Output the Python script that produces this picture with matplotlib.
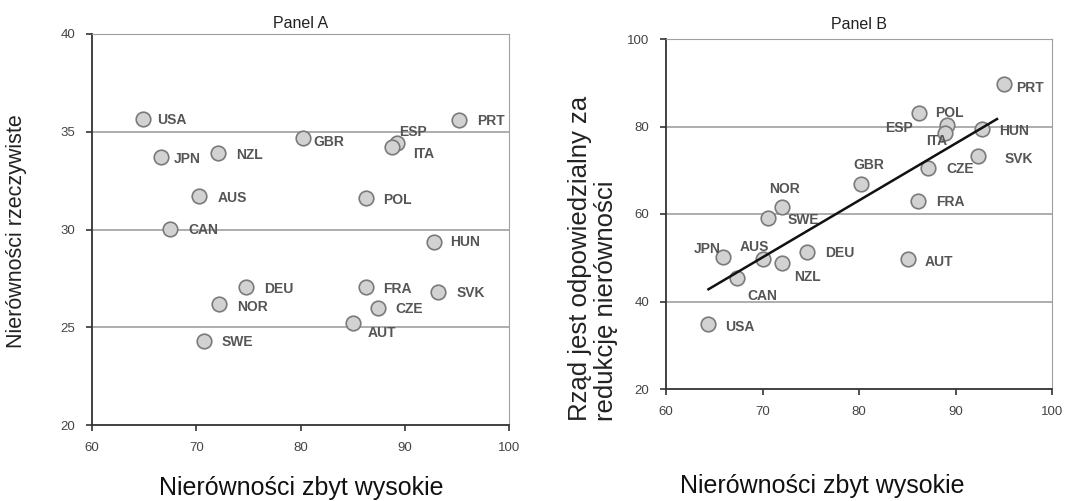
import matplotlib.pyplot as plt
import numpy as np

plt.rcParams['font.family'] = ['Liberation Sans', 'DejaVu Sans']

# Panel A: share saying inequality too high vs actual inequality (Gini)
countries_a = ['USA', 'JPN', 'NZL', 'AUS', 'CAN', 'GBR', 'ESP', 'ITA', 'PRT', 'POL',
               'HUN', 'DEU', 'NOR', 'SWE', 'FRA', 'CZE', 'AUT', 'SVK']
too_high_a = [64.9, 66.6, 72.1, 70.3, 67.5, 80.2, 89.3, 88.8, 95.2, 86.3,
              92.8, 74.8, 72.2, 70.7, 86.3, 87.4, 85.0, 93.2]
actual_a = [35.65, 33.7, 33.9, 31.7, 30.05, 34.7, 34.4, 34.2, 35.6, 31.6,
            29.35, 27.05, 26.2, 24.3, 27.05, 26.0, 25.2, 26.8]

# Panel B: share saying inequality too high vs government responsible for reducing it
countries_b = ['PRT', 'POL', 'ESP', 'ITA', 'HUN', 'SVK', 'CZE', 'GBR', 'FRA', 'NOR',
               'SWE', 'JPN', 'AUS', 'NZL', 'DEU', 'CAN', 'AUT', 'USA']
too_high_b = [95.0, 89.1, 86.2, 88.9, 92.7, 92.3, 87.2, 80.2, 86.1, 72.0,
              70.6, 65.9, 70.1, 72.0, 74.6, 67.4, 85.1, 64.4]
govt_b = [89.7, 80.3, 83.1, 78.5, 79.4, 73.3, 70.6, 66.8, 63.0, 61.7,
          59.1, 50.2, 49.7, 48.8, 51.3, 45.4, 49.7, 34.9]

# label offsets in points (dx, dy, ha)
default_off = (13, -1, 'left')
offs_a = {'USA': (10, -1, 'left'), 'JPN': (9, -1, 'left'), 'ESP': (1, 8, 'left'),
          'ITA': (15, -5, 'left'), 'GBR': (8, -3.5, 'left'), 'AUT': (11, -7, 'left'),
          'NOR': (13, -2, 'left'), 'POL': (12, -1, 'left'), 'HUN': (12, 0, 'left'),
          'FRA': (12, -1, 'left')}
offs_b = {'PRT': (9, -3, 'left'), 'POL': (2, 9, 'center'), 'ESP': (-4, -11, 'right'),
          'ITA': (-6, -6, 'center'), 'HUN': (13, -1, 'left'), 'SVK': (19, -2, 'left'),
          'GBR': (6, 14, 'center'), 'NOR': (2, 13, 'center'), 'SWE': (14, -1.5, 'left'),
          'JPN': (-2, 6, 'right'), 'AUS': (-6.5, 9, 'center'), 'NZL': (9, -10, 'left'),
          'CAN': (7, -13, 'left'), 'AUT': (12, -2, 'left'), 'USA': (12, -2, 'left')}

fig = plt.figure(figsize=(10.67, 5.01), dpi=100)
W, H = 1067, 501
ax_a = fig.add_axes([92 / W, 1 - 425 / H, (509 - 92) / W, (425 - 34) / H])
ax_b = fig.add_axes([666 / W, 1 - 389 / H, (1052 - 666) / W, (389 - 39) / H])


def style(ax, yticks):
    ax.set_xlim(60, 100)
    ax.set_xticks([60, 70, 80, 90, 100])
    ax.set_ylim(yticks[0], yticks[-1])
    ax.set_yticks(yticks)
    for y in yticks[1:-1]:
        ax.axhline(y, color='#a0a0a0', lw=1.2, zorder=0)
    ax.spines['left'].set_color('#333333')
    ax.spines['bottom'].set_color('#333333')
    ax.spines['left'].set_linewidth(1.3)
    ax.spines['bottom'].set_linewidth(1.3)
    ax.spines['top'].set_color('#a0a0a0')
    ax.spines['right'].set_color('#a0a0a0')
    ax.tick_params(direction='out', length=4, width=1.2, color='#333333',
                   labelsize=9.5, labelcolor='#444444', pad=8)


def scatter(ax, names, xs, ys, offs):
    ax.scatter(xs, ys, s=110, facecolor='#d2d2d2', edgecolor='#7a7a7a', lw=1.2, zorder=3)
    for n, x, y in zip(names, xs, ys):
        dx, dy, ha = offs.get(n, default_off)
        ax.annotate(n, (x, y), xytext=(dx, dy), textcoords='offset points',
                    ha=ha, va='center', fontsize=10, fontweight='bold',
                    color='#555555', zorder=4)


style(ax_a, [20, 25, 30, 35, 40])
scatter(ax_a, countries_a, too_high_a, actual_a, offs_a)
ax_a.set_title('Panel A', fontsize=11.5, color='#222222', pad=4)

style(ax_b, [20, 40, 60, 80, 100])
scatter(ax_b, countries_b, too_high_b, govt_b, offs_b)
xb = np.array(too_high_b)
slope, icpt = np.polyfit(xb, np.array(govt_b), 1)
xl = np.array([xb.min(), 94.3])
ax_b.plot(xl, slope * xl + icpt, color='#111111', lw=1.8, zorder=5)
ax_b.set_title('Panel B', fontsize=11.5, color='#222222', pad=7)

# axis titles placed in figure pixels
fig.text(17 / W, 1 - 231 / H, 'Nierówności rzeczywiste', rotation=90,
         ha='center', va='center', fontsize=15.5, color='#222222')
fig.text(593 / W, 1 - 421 / H, 'Rząd jest odpowiedzialny za\nredukcję nierówności',
         rotation=90, ha='center', va='bottom', multialignment='left',
         fontsize=18.5, color='#222222', linespacing=1.1)
fig.text(301 / W, 1 - 488 / H, 'Nierówności zbyt wysokie', ha='center', va='center',
         fontsize=18, color='#111111')
fig.text(822 / W, 1 - 486 / H, 'Nierówności zbyt wysokie', ha='center', va='center',
         fontsize=18, color='#111111')

fig.savefig('out.png', dpi=100, facecolor='white')
